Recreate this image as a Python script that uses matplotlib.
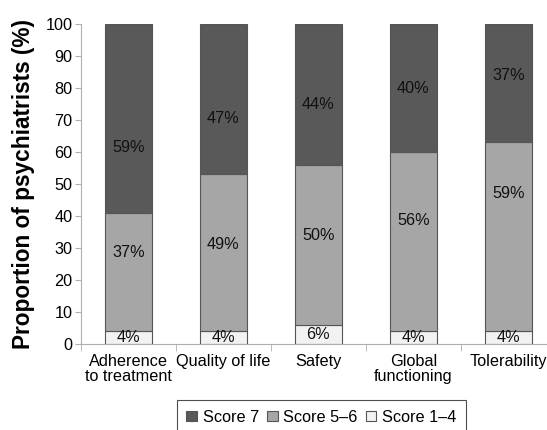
import matplotlib
matplotlib.use("Agg")
import matplotlib.pyplot as plt
import numpy as np

plt.rcParams["font.family"] = ["Liberation Sans", "DejaVu Sans"]

# ---- data ----
categories = ["Adherence\nto treatment", "Quality of life", "Safety",
              "Global\nfunctioning", "Tolerability"]
score_1_4 = [4, 4, 6, 4, 4]
score_5_6 = [37, 49, 50, 56, 59]
score_7 = [59, 47, 44, 40, 37]

# label heights as they sit in the original (not exactly centred)
lab_y_7 = [61.5, 70.6, 75, 80, 84]
lab_y_56 = [28.7, 31, 34, 38.5, 47]
lab_y_14 = [2, 2, 3, 2, 2]

c7, c56, c14 = "#595959", "#a6a6a6", "#f2f2f2"
edge = "#555555"
fs = 11.7

fig = plt.figure(figsize=(5.47, 4.30), dpi=100)
ax = fig.add_axes([0.148, 0.2, 0.868, 0.744])

x = np.arange(len(categories))
w = 0.5
b1 = np.array(score_1_4)
b2 = b1 + np.array(score_5_6)
ax.bar(x, score_1_4, w, color=c14, edgecolor=edge, linewidth=0.8, label="Score 1–4")
ax.bar(x, score_5_6, w, bottom=b1, color=c56, edgecolor=edge, linewidth=0.8, label="Score 5–6")
ax.bar(x, score_7, w, bottom=b2, color=c7, edgecolor=edge, linewidth=0.8, label="Score 7")

for i in range(len(categories)):
    ax.text(x[i], lab_y_7[i], f"{score_7[i]}%", ha="center", va="center", fontsize=fs, color="#111111")
    ax.text(x[i], lab_y_56[i], f"{score_5_6[i]}%", ha="center", va="center", fontsize=fs, color="#111111")
    ax.text(x[i], lab_y_14[i], f"{score_1_4[i]}%", ha="center", va="center", fontsize=fs, color="#111111")

ax.set_xlim(-0.5, len(categories) - 0.5)
ax.set_ylim(0, 100)
ax.set_yticks(range(0, 101, 10))
ax.set_xticks(x)
ax.set_xticklabels(categories, fontsize=fs, linespacing=1.0)
ax.set_xticks(np.arange(-0.5, len(categories), 1), minor=True)
ax.tick_params(axis="x", which="major", length=0, pad=7)
ax.tick_params(axis="x", which="minor", length=5, color="#b0b0b0")
ax.tick_params(axis="y", labelsize=fs, length=4, color="#b0b0b0", pad=2)

for s in ["top", "right"]:
    ax.spines[s].set_visible(False)
for s in ["left", "bottom"]:
    ax.spines[s].set_color("#b0b0b0")

ax.set_ylabel("Proportion of psychiatrists (%)", fontsize=16.3, fontweight="bold", labelpad=8)

# legend box runs off the bottom edge as in the original
h, l = ax.get_legend_handles_labels()
leg = fig.legend(h[::-1], l[::-1], loc="upper left", bbox_to_anchor=(0.323, 0.07),
                 ncol=3, fontsize=fs, frameon=True, fancybox=False, borderaxespad=0,
                 edgecolor="#222222", handlelength=0.65, handleheight=0.65,
                 handletextpad=0.35, columnspacing=0.5, borderpad=0.6)
leg.get_frame().set_linewidth(0.8)

fig.savefig("out.png", dpi=100)
